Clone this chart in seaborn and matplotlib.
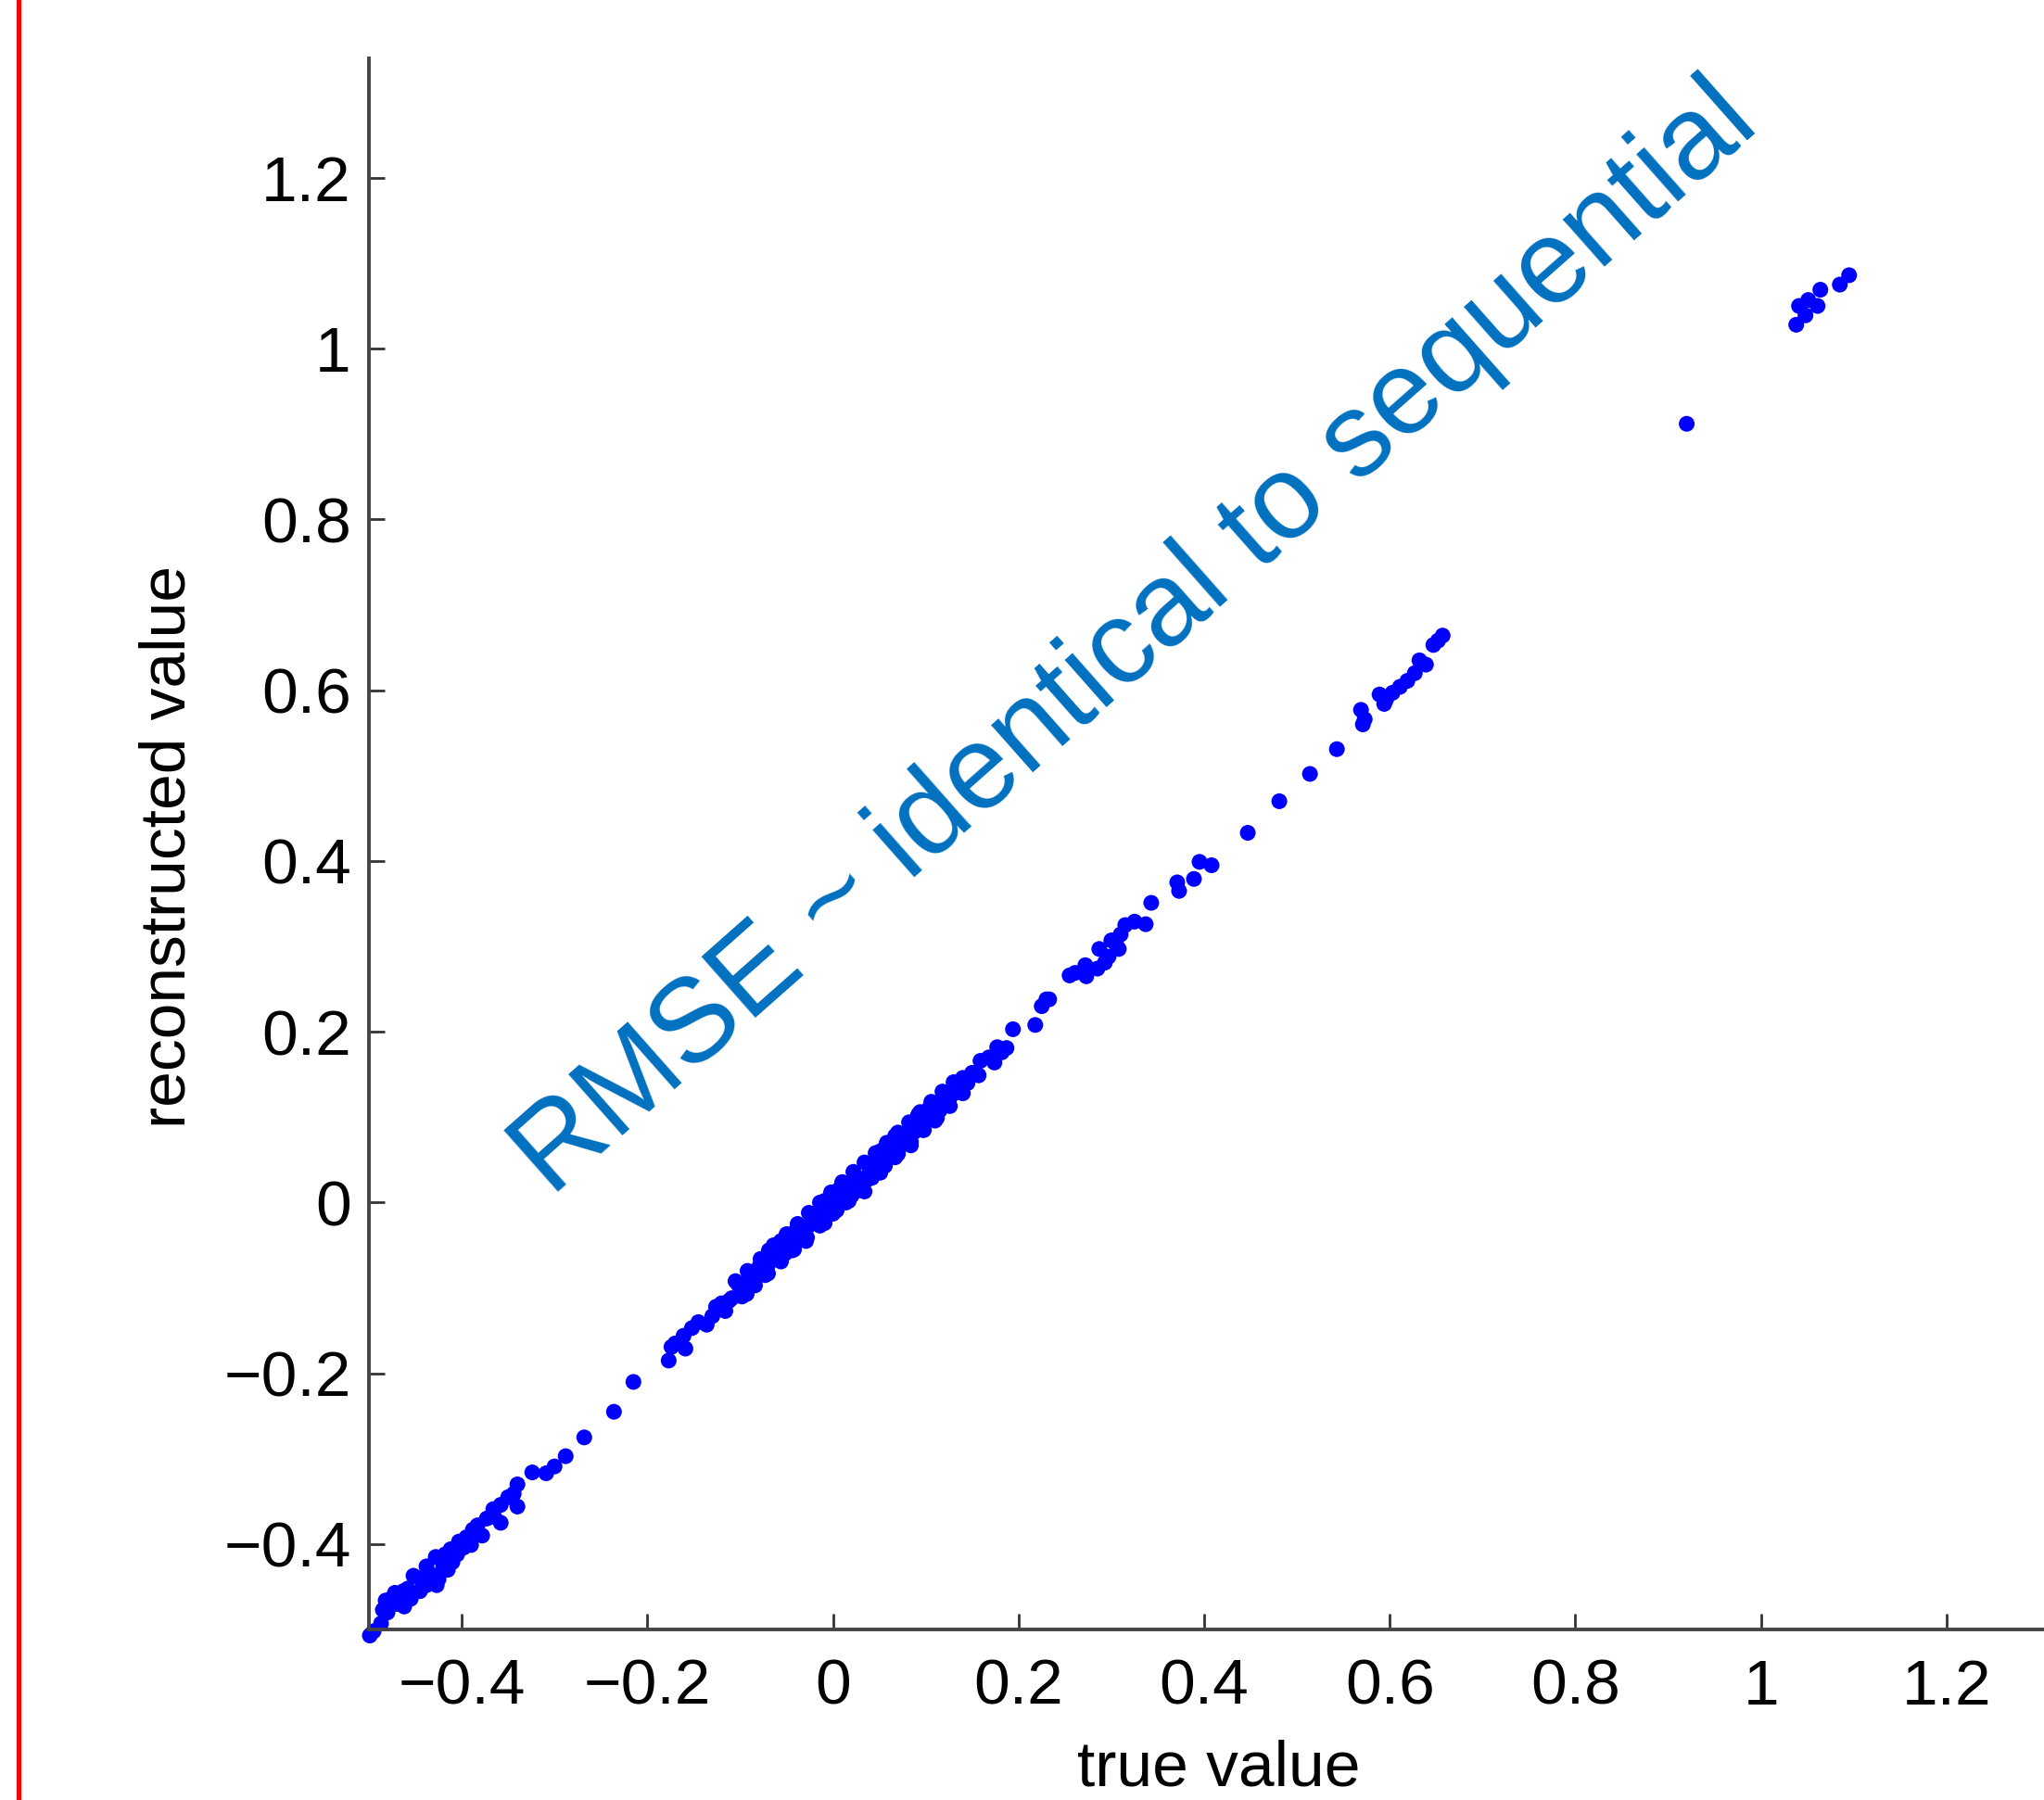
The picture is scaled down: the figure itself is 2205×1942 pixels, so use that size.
import numpy as np
import pandas as pd
import seaborn as sns
import matplotlib.pyplot as plt
from matplotlib.lines import Line2D

# values
true_vals = [
    # lower tail
    -0.499, -0.495, -0.487, -0.485, -0.475, -0.482, -0.462, -0.472, -0.455,
    -0.463, -0.445, -0.438, -0.427, -0.452, -0.425, -0.438, -0.415, -0.428,
    -0.410, -0.405, -0.412, -0.403, -0.390, -0.378, -0.388, -0.358, -0.373,
    -0.366, -0.358, -0.340, -0.344, -0.340, -0.324, -0.309, -0.300, -0.288,
    -0.268, -0.236, -0.215, -0.395, -0.420, -0.445, -0.468, -0.480,
    -0.470, -0.458, -0.432, -0.418, -0.398, -0.383, -0.365, -0.350,
    # dense band
    -0.177, -0.174, -0.159, -0.161, -0.152, -0.136, -0.126, -0.116, -0.109,
    -0.102, -0.093, -0.085, -0.079, -0.073, -0.069, -0.066, -0.059, -0.056,
    -0.052, -0.046, -0.044, -0.039, -0.036, -0.033, -0.029, -0.023, -0.016,
    -0.013, -0.009, -0.009, -0.003, 0.004, 0.007, 0.017, 0.017, 0.024,
    0.024, 0.034, 0.037, 0.037, 0.051, 0.051, 0.054, 0.057, 0.067,
    0.067, 0.077, 0.084, 0.084, 0.091, 0.092, 0.097, 0.104, 0.107,
    0.110, 0.119, 0.120, 0.124, 0.132, 0.137, 0.140, 0.157, 0.159,
    0.174, 0.177, 0.187, 0.194, 0.218, 0.225, 0.230, 0.233,
    -0.120, -0.095, -0.085, -0.060, -0.040, -0.020, -0.005, 0.010, 0.030,
    0.045, 0.060, 0.075, 0.090, 0.100, 0.112, 0.128,
    -0.170, -0.145, -0.130, -0.112, -0.098, -0.090, -0.080, -0.070, -0.063,
    -0.055, -0.048, -0.042, -0.035, -0.027, -0.018, -0.012, -0.004, 0.002,
    0.012, 0.020, 0.028, 0.040, 0.047, 0.055, 0.063, 0.072, 0.080,
    0.088, 0.095, 0.103, 0.115, 0.125, 0.133, 0.145, 0.150, 0.168, 0.182,
    -0.105, -0.092, -0.078, -0.064, -0.050, -0.038, -0.026, -0.014, -0.002,
    0.010, 0.022, 0.034, 0.046, 0.058, 0.070, 0.082, 0.094, 0.106, 0.118,
    0.130,
    -0.098, -0.084, -0.070, -0.056, -0.042, -0.028, -0.014, 0.000, 0.014,
    0.028, 0.042, 0.056, 0.070, 0.084, 0.098, 0.112, 0.126, 0.140,
    # upper part
    0.255, 0.261, 0.272, 0.273, 0.285, 0.287, 0.293, 0.297, 0.300, 0.305,
    0.308, 0.310, 0.315, 0.325, 0.337, 0.343, 0.371, 0.373, 0.389, 0.395,
    0.408, 0.447, 0.481, 0.514, 0.543, 0.569, 0.571, 0.573, 0.589, 0.596,
    0.594, 0.603, 0.611, 0.619, 0.627, 0.632, 0.639, 0.647, 0.652, 0.657,
    # outliers top right
    0.920, 1.038, 1.048, 1.041, 1.051, 1.061, 1.064, 1.085, 1.095,
]
recon_vals = [
    -0.507, -0.502, -0.493, -0.477, -0.463, -0.466, -0.473, -0.457, -0.464,
    -0.455, -0.455, -0.448, -0.448, -0.437, -0.441, -0.426, -0.430, -0.415,
    -0.421, -0.412, -0.406, -0.397, -0.401, -0.390, -0.383, -0.375, -0.370,
    -0.359, -0.354, -0.356, -0.341, -0.330, -0.316, -0.317, -0.309, -0.297,
    -0.275, -0.245, -0.210, -0.392, -0.425, -0.440, -0.462, -0.480,
    -0.470, -0.452, -0.436, -0.412, -0.404, -0.378, -0.368, -0.345,
    -0.185, -0.169, -0.171, -0.156, -0.147, -0.143, -0.122, -0.127, -0.112,
    -0.096, -0.107, -0.084, -0.074, -0.085, -0.056, -0.066, -0.053, -0.045,
    -0.060, -0.054, -0.056, -0.031, -0.031, -0.043, -0.045, -0.013, -0.013,
    -0.024, 0.002, -0.024, 0.002, -0.009, 0.016, 0.020, 0.002, 0.031,
    0.013, 0.013, 0.045, 0.027, 0.060, 0.035, 0.062, 0.049, 0.078,
    0.053, 0.074, 0.067, 0.093, 0.100, 0.103, 0.085, 0.111, 0.116,
    0.096, 0.125, 0.125, 0.114, 0.138, 0.129, 0.146, 0.149, 0.166,
    0.164, 0.182, 0.181, 0.203, 0.208, 0.230, 0.238, 0.238,
    -0.118, -0.098, -0.090, -0.063, -0.040, -0.020, -0.008, 0.008, 0.028,
    0.040, 0.058, 0.070, 0.088, 0.098, 0.112, 0.126,
    -0.165, -0.140, -0.133, -0.115, -0.103, -0.088, -0.082, -0.073, -0.058,
    -0.057, -0.047, -0.036, -0.038, -0.028, -0.022, -0.008, -0.012, 0.004,
    0.014, 0.008, 0.024, 0.038, 0.050, 0.048, 0.066, 0.066, 0.080,
    0.083, 0.095, 0.103, 0.108, 0.121, 0.131, 0.140, 0.152, 0.170, 0.176,
    -0.092, -0.080, -0.066, -0.050, -0.037, -0.025, -0.012, 0.000, 0.012,
    0.024, 0.036, 0.047, 0.058, 0.070, 0.082, 0.094, 0.106, 0.118, 0.130,
    0.141,
    -0.110, -0.097, -0.083, -0.069, -0.055, -0.041, -0.027, -0.013, 0.000,
    0.015, 0.029, 0.043, 0.057, 0.071, 0.085, 0.099, 0.113, 0.128,
    0.266, 0.269, 0.278, 0.265, 0.274, 0.297, 0.281, 0.288, 0.307, 0.303,
    0.297, 0.314, 0.325, 0.329, 0.326, 0.351, 0.375, 0.365, 0.379, 0.399,
    0.395, 0.433, 0.470, 0.502, 0.531, 0.577, 0.560, 0.566, 0.595, 0.589,
    0.584, 0.597, 0.604, 0.611, 0.620, 0.635, 0.630, 0.653, 0.658, 0.664,
    0.912, 1.028, 1.039, 1.050, 1.057, 1.050, 1.069, 1.075, 1.086,
]

tick_vals = [-0.4, -0.2, 0, 0.2, 0.4, 0.6, 0.8, 1, 1.2]
tick_labels = ['\u22120.4', '\u22120.2', '0', '0.2', '0.4', '0.6', '0.8', '1', '1.2']

df = pd.DataFrame({'true': true_vals, 'recon': recon_vals})

sns.set_style('white')
plt.rcParams['font.family'] = ['Liberation Sans', 'DejaVu Sans']

fig = plt.figure(figsize=(22.05, 19.42), dpi=100)
ax = fig.add_axes([0.1805, 0.0947, 0.8195, 0.8729])

sns.scatterplot(data=df, x='true', y='recon', ax=ax, color='#0000ff',
                s=150, linewidth=0, edgecolor='none', clip_on=False,
                legend=False)

ax.set_xlim(-0.5, 1.305)
ax.set_ylim(-0.5, 1.34)

ax.set_xticks(tick_vals)
ax.set_xticklabels(tick_labels)
ax.set_yticks(tick_vals)
ax.set_yticklabels(tick_labels)

ax.tick_params(axis='both', direction='in', length=12.5, width=2,
               color='#333333', labelsize=50, labelcolor='black',
               bottom=True, left=True)
ax.tick_params(axis='x', pad=22)
ax.tick_params(axis='y', pad=14)

for side in ['top', 'right']:
    ax.spines[side].set_visible(False)
for side in ['left', 'bottom']:
    ax.spines[side].set_linewidth(2.8)
    ax.spines[side].set_color('#444444')

ax.set_xlabel('true value', fontsize=50, color='black')
ax.set_ylabel('reconstructed value', fontsize=50, color='black')
ax.xaxis.set_label_coords(0.5075, -0.0991)
ax.xaxis.label.set_va('baseline')
ax.yaxis.set_label_coords(-0.1096, 0.498)
ax.yaxis.label.set_va('baseline')

ax.text(0.327, 0.659, 'RMSE ~ identical to sequential', color='#0070c0',
        fontsize=92, rotation=41.5, rotation_mode='anchor',
        ha='center', va='center')

# red vertical rule at the left edge
fig.add_artist(Line2D([0.0091, 0.0091], [0, 1], color='red', lw=3.6,
                      transform=fig.transFigure))

fig.savefig('out.png', dpi=100)
